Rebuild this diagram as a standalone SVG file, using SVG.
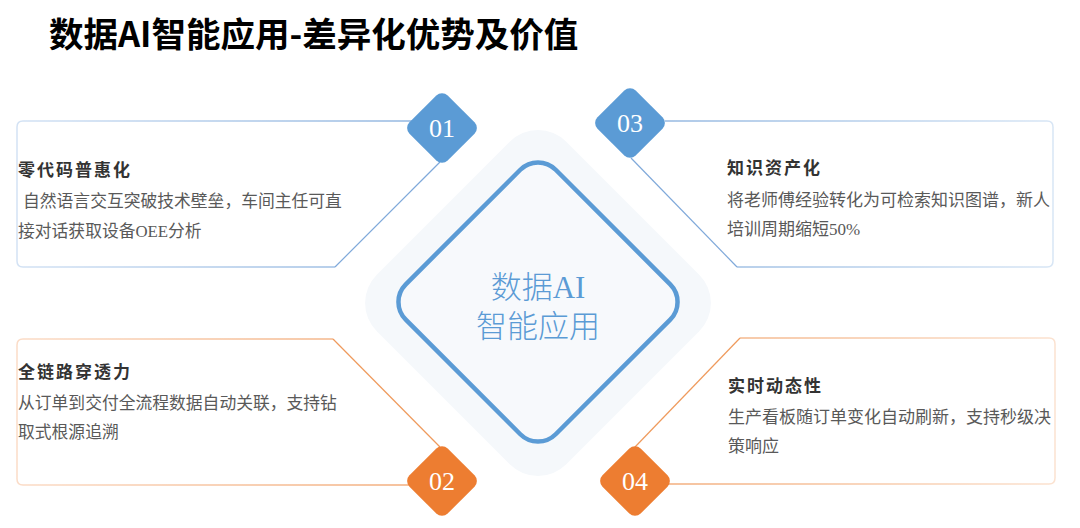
<svg xmlns="http://www.w3.org/2000/svg" width="1080" height="528" viewBox="0 0 1080 528">
<defs>
<style>
.title{font-family:"Noto Sans CJK SC","Noto Sans",sans-serif;font-weight:700;font-size:34.5px;fill:#000}
.head{font-family:"Noto Sans CJK SC",sans-serif;font-weight:700;font-size:17px;fill:#333;letter-spacing:2px}
.body{font-family:"Liberation Serif","Noto Sans CJK SC",serif;font-size:17px;fill:#595959}
.bodyL{font-family:"Liberation Serif","Noto Sans CJK SC",serif;font-size:16.8px;fill:#595959}
.num{font-family:"Liberation Serif","DejaVu Serif",serif;font-size:26px;fill:#fff;text-anchor:middle}
.center{font-family:"Liberation Serif","Noto Sans CJK SC",serif;font-size:31px;fill:#5b9bd5;text-anchor:middle;font-weight:300}
.card{fill:none;stroke-width:1.5}
.diag{fill:none;stroke-width:1.2}
</style>
<linearGradient id="g1" gradientUnits="userSpaceOnUse" x1="17" y1="0" x2="440" y2="0"><stop offset="0" stop-color="#d3e2f4"/><stop offset="1" stop-color="#8fb4df"/></linearGradient>
<linearGradient id="g3" gradientUnits="userSpaceOnUse" x1="630" y1="0" x2="1055" y2="0"><stop offset="0" stop-color="#8fb4df"/><stop offset="1" stop-color="#d8e6f5"/></linearGradient>
<linearGradient id="g2" gradientUnits="userSpaceOnUse" x1="17" y1="0" x2="440" y2="0"><stop offset="0" stop-color="#fbdcc7"/><stop offset="1" stop-color="#f2aa77"/></linearGradient>
<linearGradient id="g4" gradientUnits="userSpaceOnUse" x1="635" y1="0" x2="1055" y2="0"><stop offset="0" stop-color="#f2aa77"/><stop offset="1" stop-color="#fbe2d0"/></linearGradient>
</defs>
<rect width="1080" height="528" fill="#fff"/>
<text class="title" x="49" y="47">数据AI智能应用-差异化优势及价值</text>

<g id="connectors">
<path class="card" stroke="url(#g1)" d="M414,121 H23 Q17,121 17,127 V261 Q17,267 23,267 H335"/>
<path class="diag" stroke="#7fa9da" d="M335,267 L440,162"/>
<path class="card" stroke="url(#g3)" d="M665,121 H1047 Q1053,121 1053,127 V261 Q1053,267 1047,267 H737"/>
<path class="diag" stroke="#7fa9da" d="M737,267 L631,158"/>
<path class="card" stroke="url(#g2)" d="M410,485 H23 Q17,485 17,479 V345 Q17,339 23,339 H333"/>
<path class="diag" stroke="#ef9a5c" d="M333,339 L440,447"/>
<path class="card" stroke="url(#g4)" d="M668,484 H1049 Q1055,484 1055,478 V344 Q1055,338 1049,338 H740"/>
<path class="diag" stroke="#ef9a5c" d="M740,338 L635,447"/>
</g>

<g id="center">
<rect x="-134" y="-134" width="268" height="268" rx="40" fill="#f5f8fb" transform="translate(538,303) rotate(45)"/>
<rect x="-106" y="-106" width="212" height="212" rx="25" fill="#f7f9fc" stroke="#5b9bd5" stroke-width="4.5" transform="translate(538,302) rotate(45)"/>
<text class="center" x="538" y="298">数据AI</text>
<text class="center" x="538" y="337">智能应用</text>
</g>

<g id="node01">
<rect x="-27" y="-27" width="54" height="54" rx="8" fill="#5b9bd5" transform="translate(442,128) rotate(45)"/>
<text class="num" x="442" y="137">01</text>
<text class="head" x="18" y="176">零代码普惠化</text>
<text class="bodyL" x="23" y="207">自然语言交互突破技术壁垒，车间主任可直</text>
<text class="bodyL" x="18" y="237">接对话获取设备OEE分析</text>
</g>

<g id="node03">
<rect x="-27" y="-27" width="54" height="54" rx="8" fill="#5b9bd5" transform="translate(630,123) rotate(45)"/>
<text class="num" x="630" y="132">03</text>
<text class="head" x="727" y="174">知识资产化</text>
<text class="body" x="727" y="206">将老师傅经验转化为可检索知识图谱，新人</text>
<text class="body" x="727" y="235">培训周期缩短50%</text>
</g>

<g id="node02">
<rect x="-27" y="-27" width="54" height="54" rx="8" fill="#ed7d31" transform="translate(442,481) rotate(45)"/>
<text class="num" x="442" y="490">02</text>
<text class="head" x="18" y="378">全链路穿透力</text>
<text class="bodyL" x="18" y="409">从订单到交付全流程数据自动关联，支持钻</text>
<text class="bodyL" x="18" y="438">取式根源追溯</text>
</g>

<g id="node04">
<rect x="-27" y="-27" width="54" height="54" rx="8" fill="#ed7d31" transform="translate(635,481) rotate(45)"/>
<text class="num" x="635" y="490">04</text>
<text class="head" x="728" y="392">实时动态性</text>
<text class="body" x="728" y="423">生产看板随订单变化自动刷新，支持秒级决</text>
<text class="body" x="728" y="452">策响应</text>
</g>
</svg>
